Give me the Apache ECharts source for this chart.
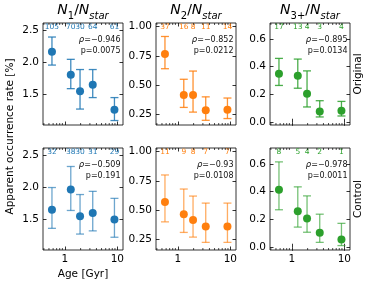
<!DOCTYPE html>
<html><head><meta charset="utf-8">
<script src="https://cdn.jsdelivr.net/npm/echarts@6/dist/echarts.min.js"></script>
<style>html,body{margin:0;padding:0;background:#fff}#c{width:374px;height:286px}</style>
</head><body><div id="c"></div>
<script>
// ---- data ----
const ages = [0.57, 1.3, 1.95, 3.4, 8.8];
const xMajorTicks = [1, 10];
const xMinorTicks = [0.4, 0.5, 0.6, 0.7, 0.8, 0.9, 2, 3, 4, 5, 6, 7, 8, 9];

// Original row
const origN1 = [2.17, 1.81, 1.55, 1.65, 1.26];
const origN1Lo = [1.96, 1.59, 1.27, 1.45, 1.09];
const origN1Hi = [2.40, 2.05, 1.89, 1.89, 1.45];
const origN1Count = [105, 70, 30, 64, 61];

const origN2 = [0.765, 0.415, 0.415, 0.285, 0.29];
const origN2Lo = [0.64, 0.31, 0.27, 0.20, 0.215];
const origN2Hi = [0.915, 0.55, 0.62, 0.40, 0.39];
const origN2Count = [37, 16, 8, 11, 14];

const origN3 = [0.35, 0.335, 0.205, 0.077, 0.082];
const origN3Lo = [0.265, 0.245, 0.11, 0.038, 0.045];
const origN3Hi = [0.46, 0.455, 0.37, 0.155, 0.15];
const origN3Count = [17, 13, 4, 3, 4];

// Control row
const ctrlN1 = [1.65, 1.97, 1.55, 1.60, 1.50];
const ctrlN1Lo = [1.36, 1.64, 1.27, 1.32, 1.22];
const ctrlN1Hi = [2.00, 2.33, 1.89, 1.94, 1.83];
const ctrlN1Count = [32, 38, 30, 31, 29];

const ctrlN2 = [0.57, 0.465, 0.415, 0.36, 0.36];
const ctrlN2Lo = [0.40, 0.31, 0.27, 0.225, 0.225];
const ctrlN2Hi = [0.80, 0.68, 0.62, 0.56, 0.56];
const ctrlN2Count = [11, 9, 8, 7, 7];

const ctrlN3 = [0.414, 0.259, 0.207, 0.104, 0.055];
const ctrlN3Lo = [0.27, 0.145, 0.108, 0.035, 0.012];
const ctrlN3Hi = [0.615, 0.435, 0.37, 0.238, 0.172];
const ctrlN3Count = [8, 5, 4, 2, 1];

const rhoTexts = [['−0.946', '−0.852', '−0.895'], ['−0.509', '−0.93', '−0.978']];
const pTexts = [['0.0075', '0.0212', '0.0134'], ['0.191', '0.0108', '0.0011']];

const yTicks = [[1.5, 2.0, 2.5], [0.25, 0.50, 0.75, 1.00], [0.0, 0.2, 0.4, 0.6]];
const titleSubs = ['1', '2', '3+'];
const rowLabels = ['Original', 'Control'];

// ---- layout / style ----
const FONT = 'DejaVu Sans';
const colors = ['#1f77b4', '#ff7f0e', '#2ca02c'];
const yRanges = [[1.02, 2.62], [0.16, 1.03], [-0.02, 0.715]];
const yDec = [1, 2, 1];
const xMin = 0.385, xMax = 12.8;
const colLeft = [43, 156, 270], W = 80;
const rowTop = [23, 148], H = 102;
const barOpacity = [0.85, 0.65];

const panelData = [
  [[origN1, origN1Lo, origN1Hi, origN1Count], [origN2, origN2Lo, origN2Hi, origN2Count], [origN3, origN3Lo, origN3Hi, origN3Count]],
  [[ctrlN1, ctrlN1Lo, ctrlN1Hi, ctrlN1Count], [ctrlN2, ctrlN2Lo, ctrlN2Hi, ctrlN2Count], [ctrlN3, ctrlN3Lo, ctrlN3Hi, ctrlN3Count]]
];

const grids = [], xAxes = [], yAxes = [], series = [], graphics = [];
let gi = 0;
for (let r = 0; r < 2; r++) {
  for (let c = 0; c < 3; c++) {
    const [vals, lo, hi, cnt] = panelData[r][c];
    const color = colors[c];
    const yMin = yRanges[c][0], yMax = yRanges[c][1];
    grids.push({left: colLeft[c], top: rowTop[r], width: W, height: H, show: true,
      borderColor: '#000', borderWidth: 0.8, backgroundColor: 'transparent'});
    const tickStyle = {color: '#000', width: 0.8};
    xAxes.push({type: 'log', logBase: 10, gridIndex: gi, min: xMin, max: xMax, position: 'bottom',
      axisLine: {show: false}, splitLine: {show: false},
      axisTick: {show: true, inside: true, length: 3.5, lineStyle: tickStyle, customValues: xMajorTicks},
      axisLabel: {show: r === 1, customValues: xMajorTicks, margin: 4, fontFamily: FONT, fontSize: 10.5, color: '#000',
        formatter: v => String(Math.round(v))}});
    xAxes.push({type: 'log', logBase: 10, gridIndex: gi, min: xMin, max: xMax, position: 'top',
      axisLine: {show: false}, splitLine: {show: false},
      axisTick: {show: true, inside: true, length: 3.5, lineStyle: tickStyle, customValues: xMajorTicks},
      axisLabel: {show: false}});
    yAxes.push({type: 'value', gridIndex: gi, min: yMin, max: yMax, position: 'left',
      axisLine: {show: false}, splitLine: {show: false},
      axisTick: {show: true, inside: true, length: 3.5, lineStyle: tickStyle, customValues: yTicks[c]},
      axisLabel: {show: true, customValues: yTicks[c], margin: 4, fontFamily: FONT, fontSize: 10.5, color: '#000',
        formatter: v => Number(v).toFixed(yDec[c])}});
    yAxes.push({type: 'value', gridIndex: gi, min: yMin, max: yMax, position: 'right',
      axisLine: {show: false}, splitLine: {show: false},
      axisTick: {show: true, inside: true, length: 3.5, lineStyle: tickStyle, customValues: yTicks[c]},
      axisLabel: {show: false}});
    const xi = gi * 2, yi = gi * 2;
    const op = barOpacity[r];
    series.push({type: 'custom', xAxisIndex: xi, yAxisIndex: yi, z: 2, silent: true,
      data: ages.map((a, k) => [a, lo[k], hi[k]]), encode: {x: 0, y: [1, 2]},
      renderItem: (params, api) => {
        const x = api.value(0);
        const p1 = api.coord([x, api.value(1)]), p2 = api.coord([x, api.value(2)]);
        const cw = 4;
        const st = {stroke: color, lineWidth: 1.3, opacity: op};
        return {type: 'group', children: [
          {type: 'line', shape: {x1: p1[0], y1: p1[1], x2: p2[0], y2: p2[1]}, style: st},
          {type: 'line', shape: {x1: p1[0] - cw, y1: p1[1], x2: p1[0] + cw, y2: p1[1]}, style: st},
          {type: 'line', shape: {x1: p2[0] - cw, y1: p2[1], x2: p2[0] + cw, y2: p2[1]}, style: st}
        ]};
      }});
    series.push({type: 'scatter', xAxisIndex: xi, yAxisIndex: yi, z: 3, silent: true,
      symbol: 'circle', symbolSize: 8, itemStyle: {color: color, opacity: 1},
      data: ages.map((a, k) => [a, vals[k]])});
    series.push({type: 'custom', xAxisIndex: xi, yAxisIndex: yi, z: 4, silent: true,
      data: ages.map((a, k) => [a, yMin, cnt[k]]), encode: {x: 0, y: 1},
      renderItem: (params, api) => {
        const p = api.coord([api.value(0), api.value(1)]);
        return {type: 'text', x: p[0], y: params.coordSys.y + 4.5,
          style: {text: String(api.value(2)), fill: color, font: '7.5px "DejaVu Sans"',
            align: 'center', verticalAlign: 'middle', textAlign: 'center', textVerticalAlign: 'middle'}};
      }});
    series.push({type: 'custom', xAxisIndex: xi, yAxisIndex: yi, z: 4, silent: true,
      data: xMinorTicks.map(v => [v, yMin]), encode: {x: 0, y: 1},
      renderItem: (params, api) => {
        const p = api.coord([api.value(0), api.value(1)]);
        const cs = params.coordSys;
        const st = {stroke: '#000', lineWidth: 0.7};
        return {type: 'group', children: [
          {type: 'line', shape: {x1: p[0], y1: cs.y + cs.height, x2: p[0], y2: cs.y + cs.height - 2}, style: st},
          {type: 'line', shape: {x1: p[0], y1: cs.y, x2: p[0], y2: cs.y + 2}, style: st}
        ]};
      }});
    const rx = colLeft[c] + W - 2.5;
    graphics.push({type: 'text', x: rx, y: rowTop[r] + 16.5,
      style: {text: '{g|ρ}{v|=' + rhoTexts[r][c] + '}',
        align: 'right', verticalAlign: 'middle', textAlign: 'right', textVerticalAlign: 'middle',
        rich: {
          g: {fontFamily: FONT, fontStyle: 'italic', fontSize: 8.5, fill: '#111', color: '#111'},
          v: {fontFamily: FONT, fontSize: 8, fill: '#111', color: '#111'}
        }}});
    graphics.push({type: 'text', x: rx, y: rowTop[r] + 28,
      style: {text: 'p=' + pTexts[r][c], font: '8px "DejaVu Sans"', fill: '#111',
        align: 'right', verticalAlign: 'middle', textAlign: 'right', textVerticalAlign: 'middle'}});
    gi++;
  }
}

for (let c = 0; c < 3; c++) {
  graphics.push({type: 'text', x: colLeft[c] + W / 2, y: 12,
    style: {text: '{n|N}{s|' + titleSubs[c] + '}{m|/}{n|N}{t|star}',
      align: 'center', verticalAlign: 'middle', textAlign: 'center', textVerticalAlign: 'middle',
      rich: {
        n: {fontFamily: FONT, fontStyle: 'italic', fontSize: 14, lineHeight: 18, fill: '#000', color: '#000', verticalAlign: 'top'},
        m: {fontFamily: FONT, fontSize: 14, lineHeight: 18, fill: '#000', color: '#000', verticalAlign: 'top'},
        s: {fontFamily: FONT, fontSize: 10, lineHeight: 10, fill: '#000', color: '#000', verticalAlign: 'bottom'},
        t: {fontFamily: FONT, fontStyle: 'italic', fontSize: 10, lineHeight: 10, fill: '#000', color: '#000', verticalAlign: 'bottom'}
      }}});
}
for (let r = 0; r < 2; r++) {
  graphics.push({type: 'text', x: 358.5, y: rowTop[r] + H / 2, rotation: Math.PI / 2,
    style: {text: rowLabels[r], font: '10.5px "DejaVu Sans"', fill: '#000',
      align: 'center', verticalAlign: 'middle', textAlign: 'center', textVerticalAlign: 'middle'}});
}
graphics.push({type: 'text', x: 10, y: (rowTop[0] + rowTop[1] + H) / 2, rotation: Math.PI / 2,
  style: {text: 'Apparent occurrence rate [%]', font: '10.5px "DejaVu Sans"', fill: '#000',
    align: 'center', verticalAlign: 'middle', textAlign: 'center', textVerticalAlign: 'middle'}});
graphics.push({type: 'text', x: colLeft[0] + W / 2, y: 274,
  style: {text: 'Age [Gyr]', font: '10.5px "DejaVu Sans"', fill: '#000',
    align: 'center', verticalAlign: 'middle', textAlign: 'center', textVerticalAlign: 'middle'}});

const chart = echarts.init(document.getElementById('c'), null, {renderer: 'canvas'});
chart.setOption({
  animation: false,
  backgroundColor: '#fff',
  grid: grids, xAxis: xAxes, yAxis: yAxes, series: series, graphic: graphics
});
</script>
</body></html>
